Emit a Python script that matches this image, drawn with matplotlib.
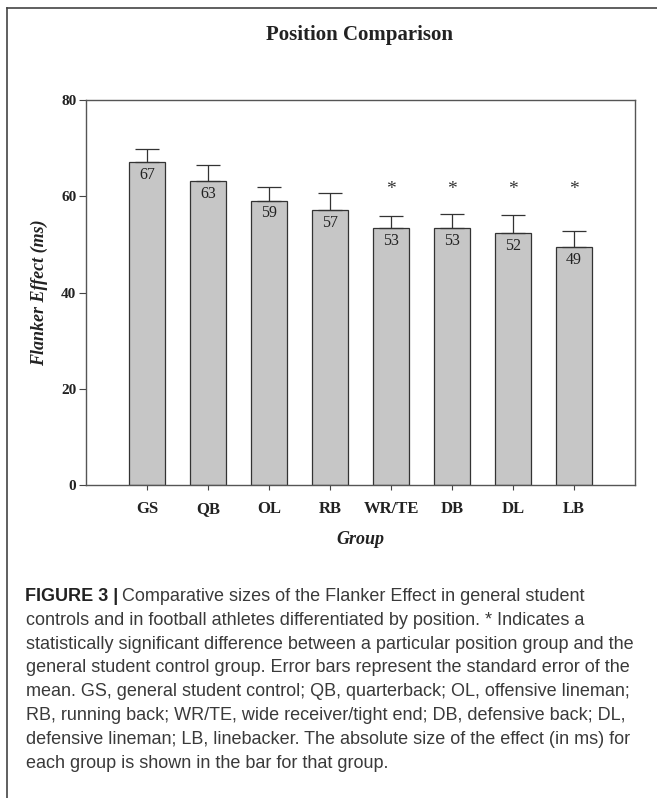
import numpy as np
import matplotlib
matplotlib.use("Agg")
import matplotlib.pyplot as plt
from matplotlib.lines import Line2D

# values
groups = ['GS', 'QB', 'OL', 'RB', 'WR/TE', 'DB', 'DL', 'LB']
means = [67.1, 63.1, 59.1, 57.1, 53.3, 53.4, 52.3, 49.4]
sem = [2.7, 3.4, 2.8, 3.5, 2.6, 2.9, 3.9, 3.3]
bar_labels = ['67', '63', '59', '57', '53', '53', '52', '49']
significant = [False, False, False, False, True, True, True, True]
star_level = 61.3

caption_lines = [
    "controls and in football athletes differentiated by position. * Indicates a",
    "statistically significant difference between a particular position group and the",
    "general student control group. Error bars represent the standard error of the",
    "mean. GS, general student control; QB, quarterback; OL, offensive lineman;",
    "RB, running back; WR/TE, wide receiver/tight end; DB, defensive back; DL,",
    "defensive lineman; LB, linebacker. The absolute size of the effect (in ms) for",
    "each group is shown in the bar for that group.",
]

W, H = 657, 798
fig = plt.figure(figsize=(W / 100, H / 100), dpi=100)
serif = 'Liberation Serif'
sans = 'Liberation Sans'

ax = fig.add_axes([86 / W, 1 - 485 / H, (635 - 86) / W, (485 - 100) / H])
x = np.arange(len(groups))
ax.bar(x, means, width=0.6, color='#c6c6c6', edgecolor='#333333', linewidth=0.9, zorder=2)
ax.errorbar(x, means, yerr=[np.zeros(len(sem)), sem], fmt='none', ecolor='#333333',
            elinewidth=0.9, capsize=8.5, capthick=0.9, zorder=3)

for xi, m, lab, sig in zip(x, means, bar_labels, significant):
    ax.text(xi, m - 1.0, lab, ha='center', va='top', fontsize=11.5, family=serif, color='#222222')
    if sig:
        ax.text(xi, star_level, '*', ha='center', va='center', fontsize=14, family=serif, color='#333333')

ax.set_xlim(-1, 8)
ax.set_ylim(0, 80)
ax.set_yticks([0, 20, 40, 60, 80])
ax.set_xticks(x)
ax.set_xticklabels(groups, family=serif, fontweight='bold', fontsize=12, va='baseline')
ax.set_yticklabels(['0', '20', '40', '60', '80'], family=serif, fontweight='bold', fontsize=11)
ax.tick_params(axis='y', length=5, width=0.8, color='#444444', pad=2, labelcolor='#222222')
ax.tick_params(axis='x', length=3.6, width=0.8, color='#444444', pad=16.6, labelcolor='#222222')
for s in ax.spines.values():
    s.set_color('#555555')
    s.set_linewidth(1.0)

ax.set_ylabel('Flanker Effect (ms)', family=serif, fontsize=13, fontweight='bold',
              style='italic', color='#222222')
ax.yaxis.set_label_coords((48 - 86) / (635 - 86), 0.5)

fig.text(360 / W, 1 - 540 / H, 'Group', ha='center', va='center', family=serif,
         fontsize=13, fontweight='bold', style='italic', color='#222222')
fig.text(360 / W, 1 - 35 / H, 'Position Comparison', ha='center', va='center',
         family=serif, fontsize=15, fontweight='bold', color='#222222')

# caption
cap_color = '#3a3a3a'
cap_size = 13
line_gap = 23.8
y0 = 601
t1 = fig.text(25 / W, 1 - y0 / H, 'FIGURE 3 |', ha='left', va='baseline',
              family=sans, fontsize=cap_size, fontweight='bold', color='#222222')
fig.canvas.draw()
bb = t1.get_window_extent(renderer=fig.canvas.get_renderer())
fig.text((bb.x1 + 4) / W, 1 - y0 / H, 'Comparative sizes of the Flanker Effect in general student',
         ha='left', va='baseline', family=sans, fontsize=cap_size, color=cap_color)
for i, line in enumerate(caption_lines):
    fig.text(26 / W, 1 - (y0 + line_gap * (i + 1)) / H, line, ha='left', va='baseline',
             family=sans, fontsize=cap_size, color=cap_color)

# frame around the figure (top and left edges)
fig.add_artist(Line2D([7 / W, 1], [1 - 8 / H, 1 - 8 / H], color='#444444', linewidth=1.2))
fig.add_artist(Line2D([7 / W, 7 / W], [0, 1 - 8 / H], color='#444444', linewidth=1.2))

fig.savefig('out.png', dpi=100)
